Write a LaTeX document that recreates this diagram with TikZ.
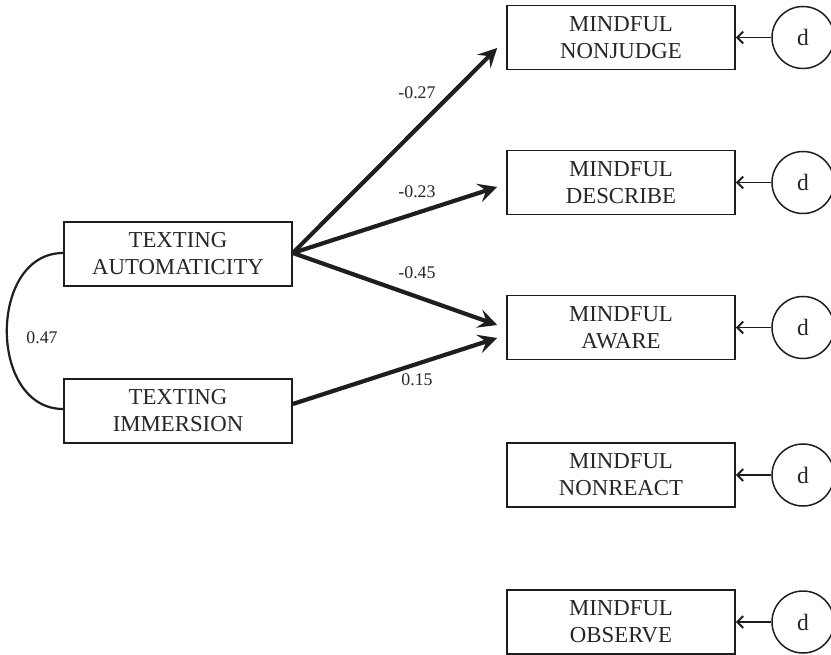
\documentclass[tikz,border=0pt]{standalone}
\usepackage{fontspec}
\setmainfont{Liberation Serif}
\usetikzlibrary{arrows.meta,calc}
\definecolor{ink}{HTML}{1E1E1E}
\definecolor{txt}{HTML}{262626}
\begin{document}
\begin{tikzpicture}[x=1pt,y=-1pt,
  varbox/.style={draw=ink, line width=1.6pt, minimum width=228pt, minimum height=64pt,
    align=center, inner sep=0pt, text=txt, font=\fontsize{22.8}{27}\selectfont},
  errc/.style={draw=ink, line width=1.5pt, circle, minimum size=62pt, inner sep=0pt,
    text=txt, font=\fontsize{23.5}{26}\selectfont},
  path/.style={draw=ink, line width=4.2pt, -{Stealth[length=19pt,width=19pt,inset=7.5pt]}},
  errarrow/.style={draw=ink, line width=1.6pt, -{Straight Barb[length=6pt,width=12pt,line width=2pt]}},
  coef/.style={text=txt, font=\fontsize{17.8}{20}\selectfont, inner sep=0pt}]
\useasboundingbox (0,0) rectangle (831,655);
\fill[white] (0,0) rectangle (831,655);

\node[varbox] (ta) at (178,254) {TEXTING\\AUTOMATICITY};
\node[varbox] (ti) at (178,411) {TEXTING\\IMMERSION};

\node[varbox] (mn) at (621,37.5) {MINDFUL\\NONJUDGE};
\node[varbox] (md) at (621,182.5) {MINDFUL\\DESCRIBE};
\node[varbox] (ma) at (621,327.5) {MINDFUL\\AWARE};
\node[varbox] (mr) at (621,475) {MINDFUL\\NONREACT};
\node[varbox] (mo) at (621,622) {MINDFUL\\OBSERVE};

\node[errc] (d1) at (803,37.5) {d};
\node[errc] (d2) at (803,182.5) {d};
\node[errc] (d3) at (803,327.5) {d};
\node[errc] (d4) at (803,475) {d};
\node[errc] (d5) at (803,622) {d};

\foreach \i/\m in {d1/mn,d2/md,d3/ma,d4/mr,d5/mo}
  \draw[errarrow] (\i) -- (\m.east);

\coordinate (t1) at ($(mn.west)+(-9,10.5)$);
\coordinate (t2) at ($(md.west)+(-9,4.5)$);
\coordinate (t3) at ($(ma.west)+(-9,-2.5)$);
\coordinate (t4) at ($(ma.west)+(-9,10.5)$);
\coordinate (s1) at ($(ta.east)+(0,-1)$);
\coordinate (s2) at ($(ti.east)+(0,-7)$);

\draw[path] (s1) -- (t1);
\draw[path] (s1) -- (t2);
\draw[path] (s1) -- (t3);
\draw[path] (s2) -- (t4);

\draw[ink, line width=2.2pt] ($(ta.west)+(0,-1)$) .. controls (-12,253) and (-12,409) .. ($(ti.west)+(0,-2)$);

\node[coef] (c1) at (417,93) {-0.27};
\node[coef] (c2) at (417,192) {-0.23};
\node[coef] (c3) at (417,273) {-0.45};
\node[coef] (c4) at (417,380) {0.15};
\node[coef] (c5) at (42,338) {0.47};
\end{tikzpicture}
\end{document}
